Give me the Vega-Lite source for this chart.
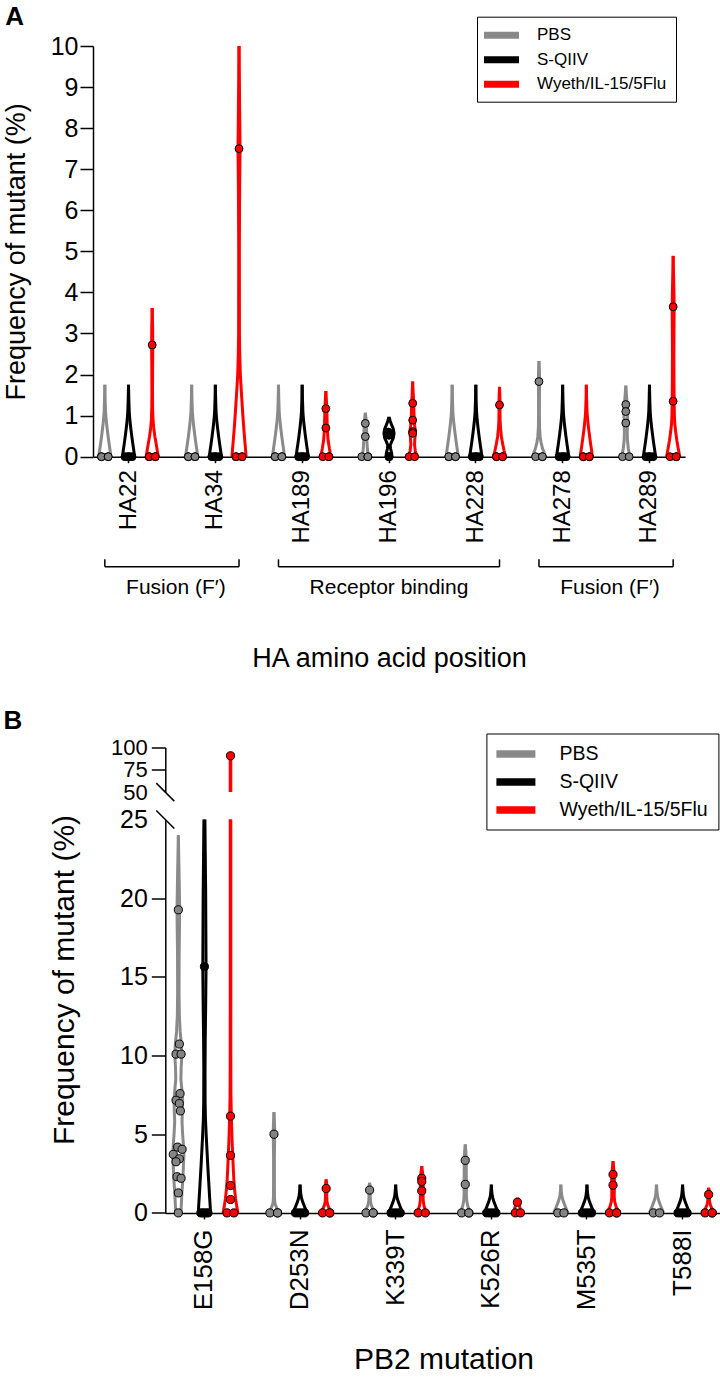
{
"$schema": "https://vega.github.io/schema/vega-lite/v6.json",
"padding": {"left": 2, "top": 4, "right": 0, "bottom": 0},
"spacing": 35.5,
"columns": 1,
"align": "none",
"datasets": {
"vA": [
{"c":"HA22|P","g":"PBS","v":0,"d":6},{"c":"HA22|P","g":"PBS","v":0.15,"d":5.2},{"c":"HA22|P","g":"PBS","v":0.3,"d":4.3},{"c":"HA22|P","g":"PBS","v":0.5,"d":3.2},{"c":"HA22|P","g":"PBS","v":0.7,"d":2.2},{"c":"HA22|P","g":"PBS","v":0.9,"d":1.3},{"c":"HA22|P","g":"PBS","v":1.1,"d":0.7},{"c":"HA22|P","g":"PBS","v":1.4,"d":0.3},{"c":"HA22|P","g":"PBS","v":1.75,"d":0},
{"c":"HA22|S","g":"S-QIIV","v":0,"d":6},{"c":"HA22|S","g":"S-QIIV","v":0.15,"d":5.2},{"c":"HA22|S","g":"S-QIIV","v":0.3,"d":4.3},{"c":"HA22|S","g":"S-QIIV","v":0.5,"d":3.2},{"c":"HA22|S","g":"S-QIIV","v":0.7,"d":2.2},{"c":"HA22|S","g":"S-QIIV","v":0.9,"d":1.3},{"c":"HA22|S","g":"S-QIIV","v":1.1,"d":0.7},{"c":"HA22|S","g":"S-QIIV","v":1.4,"d":0.3},{"c":"HA22|S","g":"S-QIIV","v":1.75,"d":0},
{"c":"HA22|W","g":"Wyeth/IL-15/5Flu","v":0,"d":6},{"c":"HA22|W","g":"Wyeth/IL-15/5Flu","v":0.15,"d":5},{"c":"HA22|W","g":"Wyeth/IL-15/5Flu","v":0.3,"d":4},{"c":"HA22|W","g":"Wyeth/IL-15/5Flu","v":0.5,"d":2.6},{"c":"HA22|W","g":"Wyeth/IL-15/5Flu","v":0.7,"d":1.5},{"c":"HA22|W","g":"Wyeth/IL-15/5Flu","v":0.9,"d":0.8},{"c":"HA22|W","g":"Wyeth/IL-15/5Flu","v":1.2,"d":0.4},{"c":"HA22|W","g":"Wyeth/IL-15/5Flu","v":1.6,"d":0.3},{"c":"HA22|W","g":"Wyeth/IL-15/5Flu","v":2.2,"d":0.4},{"c":"HA22|W","g":"Wyeth/IL-15/5Flu","v":2.72,"d":0.6},{"c":"HA22|W","g":"Wyeth/IL-15/5Flu","v":3.2,"d":0.4},{"c":"HA22|W","g":"Wyeth/IL-15/5Flu","v":3.62,"d":0},
{"c":"HA34|P","g":"PBS","v":0,"d":6},{"c":"HA34|P","g":"PBS","v":0.15,"d":5.2},{"c":"HA34|P","g":"PBS","v":0.3,"d":4.3},{"c":"HA34|P","g":"PBS","v":0.5,"d":3.2},{"c":"HA34|P","g":"PBS","v":0.7,"d":2.2},{"c":"HA34|P","g":"PBS","v":0.9,"d":1.3},{"c":"HA34|P","g":"PBS","v":1.1,"d":0.7},{"c":"HA34|P","g":"PBS","v":1.4,"d":0.3},{"c":"HA34|P","g":"PBS","v":1.75,"d":0},
{"c":"HA34|S","g":"S-QIIV","v":0,"d":6},{"c":"HA34|S","g":"S-QIIV","v":0.15,"d":5.2},{"c":"HA34|S","g":"S-QIIV","v":0.3,"d":4.3},{"c":"HA34|S","g":"S-QIIV","v":0.5,"d":3.2},{"c":"HA34|S","g":"S-QIIV","v":0.7,"d":2.2},{"c":"HA34|S","g":"S-QIIV","v":0.9,"d":1.3},{"c":"HA34|S","g":"S-QIIV","v":1.1,"d":0.7},{"c":"HA34|S","g":"S-QIIV","v":1.4,"d":0.3},{"c":"HA34|S","g":"S-QIIV","v":1.75,"d":0},
{"c":"HA34|W","g":"Wyeth/IL-15/5Flu","v":0,"d":7},{"c":"HA34|W","g":"Wyeth/IL-15/5Flu","v":0.3,"d":6},{"c":"HA34|W","g":"Wyeth/IL-15/5Flu","v":0.6,"d":5},{"c":"HA34|W","g":"Wyeth/IL-15/5Flu","v":1,"d":3.8},{"c":"HA34|W","g":"Wyeth/IL-15/5Flu","v":1.5,"d":2.5},{"c":"HA34|W","g":"Wyeth/IL-15/5Flu","v":2,"d":1.3},{"c":"HA34|W","g":"Wyeth/IL-15/5Flu","v":2.5,"d":0.7},{"c":"HA34|W","g":"Wyeth/IL-15/5Flu","v":3,"d":0.4},{"c":"HA34|W","g":"Wyeth/IL-15/5Flu","v":5,"d":0.3},{"c":"HA34|W","g":"Wyeth/IL-15/5Flu","v":6.5,"d":0.6},{"c":"HA34|W","g":"Wyeth/IL-15/5Flu","v":7.5,"d":1},{"c":"HA34|W","g":"Wyeth/IL-15/5Flu","v":8.5,"d":0.6},{"c":"HA34|W","g":"Wyeth/IL-15/5Flu","v":9.3,"d":0.3},{"c":"HA34|W","g":"Wyeth/IL-15/5Flu","v":10,"d":0},
{"c":"HA189|P","g":"PBS","v":0,"d":6},{"c":"HA189|P","g":"PBS","v":0.15,"d":5.2},{"c":"HA189|P","g":"PBS","v":0.3,"d":4.3},{"c":"HA189|P","g":"PBS","v":0.5,"d":3.2},{"c":"HA189|P","g":"PBS","v":0.7,"d":2.2},{"c":"HA189|P","g":"PBS","v":0.9,"d":1.3},{"c":"HA189|P","g":"PBS","v":1.1,"d":0.7},{"c":"HA189|P","g":"PBS","v":1.4,"d":0.3},{"c":"HA189|P","g":"PBS","v":1.75,"d":0},
{"c":"HA189|S","g":"S-QIIV","v":0,"d":6},{"c":"HA189|S","g":"S-QIIV","v":0.15,"d":5.2},{"c":"HA189|S","g":"S-QIIV","v":0.3,"d":4.3},{"c":"HA189|S","g":"S-QIIV","v":0.5,"d":3.2},{"c":"HA189|S","g":"S-QIIV","v":0.7,"d":2.2},{"c":"HA189|S","g":"S-QIIV","v":0.9,"d":1.3},{"c":"HA189|S","g":"S-QIIV","v":1.1,"d":0.7},{"c":"HA189|S","g":"S-QIIV","v":1.4,"d":0.3},{"c":"HA189|S","g":"S-QIIV","v":1.75,"d":0},
{"c":"HA189|W","g":"Wyeth/IL-15/5Flu","v":0,"d":5},{"c":"HA189|W","g":"Wyeth/IL-15/5Flu","v":0.2,"d":3.5},{"c":"HA189|W","g":"Wyeth/IL-15/5Flu","v":0.4,"d":2.2},{"c":"HA189|W","g":"Wyeth/IL-15/5Flu","v":0.6,"d":1.6},{"c":"HA189|W","g":"Wyeth/IL-15/5Flu","v":0.8,"d":1.3},{"c":"HA189|W","g":"Wyeth/IL-15/5Flu","v":1,"d":1.1},{"c":"HA189|W","g":"Wyeth/IL-15/5Flu","v":1.2,"d":0.9},{"c":"HA189|W","g":"Wyeth/IL-15/5Flu","v":1.4,"d":0.5},{"c":"HA189|W","g":"Wyeth/IL-15/5Flu","v":1.6,"d":0},
{"c":"HA196|P","g":"PBS","v":0,"d":3},{"c":"HA196|P","g":"PBS","v":0.2,"d":2},{"c":"HA196|P","g":"PBS","v":0.4,"d":1.5},{"c":"HA196|P","g":"PBS","v":0.6,"d":1.3},{"c":"HA196|P","g":"PBS","v":0.8,"d":1.2},{"c":"HA196|P","g":"PBS","v":0.95,"d":0.6},{"c":"HA196|P","g":"PBS","v":1.07,"d":0},
{"c":"HA196|S","g":"S-QIIV","v":0,"d":3},{"c":"HA196|S","g":"S-QIIV","v":0.1,"d":2.5},{"c":"HA196|S","g":"S-QIIV","v":0.2,"d":1.5},{"c":"HA196|S","g":"S-QIIV","v":0.28,"d":1.2},{"c":"HA196|S","g":"S-QIIV","v":0.36,"d":2.5},{"c":"HA196|S","g":"S-QIIV","v":0.45,"d":4.2},{"c":"HA196|S","g":"S-QIIV","v":0.57,"d":5},{"c":"HA196|S","g":"S-QIIV","v":0.68,"d":4.2},{"c":"HA196|S","g":"S-QIIV","v":0.78,"d":2.5},{"c":"HA196|S","g":"S-QIIV","v":0.87,"d":1.2},{"c":"HA196|S","g":"S-QIIV","v":0.97,"d":0},
{"c":"HA196|W","g":"Wyeth/IL-15/5Flu","v":0,"d":4},{"c":"HA196|W","g":"Wyeth/IL-15/5Flu","v":0.15,"d":2.5},{"c":"HA196|W","g":"Wyeth/IL-15/5Flu","v":0.3,"d":1.8},{"c":"HA196|W","g":"Wyeth/IL-15/5Flu","v":0.45,"d":2.2},{"c":"HA196|W","g":"Wyeth/IL-15/5Flu","v":0.6,"d":2.8},{"c":"HA196|W","g":"Wyeth/IL-15/5Flu","v":0.75,"d":2},{"c":"HA196|W","g":"Wyeth/IL-15/5Flu","v":0.9,"d":1.6},{"c":"HA196|W","g":"Wyeth/IL-15/5Flu","v":1.1,"d":1.2},{"c":"HA196|W","g":"Wyeth/IL-15/5Flu","v":1.3,"d":1},{"c":"HA196|W","g":"Wyeth/IL-15/5Flu","v":1.55,"d":0.5},{"c":"HA196|W","g":"Wyeth/IL-15/5Flu","v":1.83,"d":0},
{"c":"HA228|P","g":"PBS","v":0,"d":6},{"c":"HA228|P","g":"PBS","v":0.15,"d":5.2},{"c":"HA228|P","g":"PBS","v":0.3,"d":4.3},{"c":"HA228|P","g":"PBS","v":0.5,"d":3.2},{"c":"HA228|P","g":"PBS","v":0.7,"d":2.2},{"c":"HA228|P","g":"PBS","v":0.9,"d":1.3},{"c":"HA228|P","g":"PBS","v":1.1,"d":0.7},{"c":"HA228|P","g":"PBS","v":1.4,"d":0.3},{"c":"HA228|P","g":"PBS","v":1.75,"d":0},
{"c":"HA228|S","g":"S-QIIV","v":0,"d":6},{"c":"HA228|S","g":"S-QIIV","v":0.15,"d":5.2},{"c":"HA228|S","g":"S-QIIV","v":0.3,"d":4.3},{"c":"HA228|S","g":"S-QIIV","v":0.5,"d":3.2},{"c":"HA228|S","g":"S-QIIV","v":0.7,"d":2.2},{"c":"HA228|S","g":"S-QIIV","v":0.9,"d":1.3},{"c":"HA228|S","g":"S-QIIV","v":1.1,"d":0.7},{"c":"HA228|S","g":"S-QIIV","v":1.4,"d":0.3},{"c":"HA228|S","g":"S-QIIV","v":1.75,"d":0},
{"c":"HA228|W","g":"Wyeth/IL-15/5Flu","v":0,"d":6},{"c":"HA228|W","g":"Wyeth/IL-15/5Flu","v":0.15,"d":4.5},{"c":"HA228|W","g":"Wyeth/IL-15/5Flu","v":0.3,"d":3.2},{"c":"HA228|W","g":"Wyeth/IL-15/5Flu","v":0.5,"d":1.8},{"c":"HA228|W","g":"Wyeth/IL-15/5Flu","v":0.7,"d":1},{"c":"HA228|W","g":"Wyeth/IL-15/5Flu","v":0.9,"d":0.6},{"c":"HA228|W","g":"Wyeth/IL-15/5Flu","v":1.1,"d":0.5},{"c":"HA228|W","g":"Wyeth/IL-15/5Flu","v":1.26,"d":0.6},{"c":"HA228|W","g":"Wyeth/IL-15/5Flu","v":1.45,"d":0.4},{"c":"HA228|W","g":"Wyeth/IL-15/5Flu","v":1.7,"d":0},
{"c":"HA278|P","g":"PBS","v":0,"d":6.5},{"c":"HA278|P","g":"PBS","v":0.1,"d":5},{"c":"HA278|P","g":"PBS","v":0.2,"d":3.5},{"c":"HA278|P","g":"PBS","v":0.35,"d":2},{"c":"HA278|P","g":"PBS","v":0.5,"d":1.1},{"c":"HA278|P","g":"PBS","v":0.7,"d":0.6},{"c":"HA278|P","g":"PBS","v":1,"d":0.4},{"c":"HA278|P","g":"PBS","v":1.4,"d":0.4},{"c":"HA278|P","g":"PBS","v":1.83,"d":0.6},{"c":"HA278|P","g":"PBS","v":2.1,"d":0.4},{"c":"HA278|P","g":"PBS","v":2.33,"d":0},
{"c":"HA278|S","g":"S-QIIV","v":0,"d":6},{"c":"HA278|S","g":"S-QIIV","v":0.15,"d":5.2},{"c":"HA278|S","g":"S-QIIV","v":0.3,"d":4.3},{"c":"HA278|S","g":"S-QIIV","v":0.5,"d":3.2},{"c":"HA278|S","g":"S-QIIV","v":0.7,"d":2.2},{"c":"HA278|S","g":"S-QIIV","v":0.9,"d":1.3},{"c":"HA278|S","g":"S-QIIV","v":1.1,"d":0.7},{"c":"HA278|S","g":"S-QIIV","v":1.4,"d":0.3},{"c":"HA278|S","g":"S-QIIV","v":1.75,"d":0},
{"c":"HA278|W","g":"Wyeth/IL-15/5Flu","v":0,"d":6},{"c":"HA278|W","g":"Wyeth/IL-15/5Flu","v":0.15,"d":5.2},{"c":"HA278|W","g":"Wyeth/IL-15/5Flu","v":0.3,"d":4.3},{"c":"HA278|W","g":"Wyeth/IL-15/5Flu","v":0.5,"d":3.2},{"c":"HA278|W","g":"Wyeth/IL-15/5Flu","v":0.7,"d":2.2},{"c":"HA278|W","g":"Wyeth/IL-15/5Flu","v":0.9,"d":1.3},{"c":"HA278|W","g":"Wyeth/IL-15/5Flu","v":1.1,"d":0.7},{"c":"HA278|W","g":"Wyeth/IL-15/5Flu","v":1.4,"d":0.3},{"c":"HA278|W","g":"Wyeth/IL-15/5Flu","v":1.75,"d":0},
{"c":"HA289|P","g":"PBS","v":0,"d":4},{"c":"HA289|P","g":"PBS","v":0.2,"d":2.5},{"c":"HA289|P","g":"PBS","v":0.4,"d":1.6},{"c":"HA289|P","g":"PBS","v":0.6,"d":1.4},{"c":"HA289|P","g":"PBS","v":0.8,"d":1.6},{"c":"HA289|P","g":"PBS","v":1,"d":1.8},{"c":"HA289|P","g":"PBS","v":1.2,"d":1.6},{"c":"HA289|P","g":"PBS","v":1.45,"d":0.8},{"c":"HA289|P","g":"PBS","v":1.73,"d":0},
{"c":"HA289|S","g":"S-QIIV","v":0,"d":6},{"c":"HA289|S","g":"S-QIIV","v":0.15,"d":5.2},{"c":"HA289|S","g":"S-QIIV","v":0.3,"d":4.3},{"c":"HA289|S","g":"S-QIIV","v":0.5,"d":3.2},{"c":"HA289|S","g":"S-QIIV","v":0.7,"d":2.2},{"c":"HA289|S","g":"S-QIIV","v":0.9,"d":1.3},{"c":"HA289|S","g":"S-QIIV","v":1.1,"d":0.7},{"c":"HA289|S","g":"S-QIIV","v":1.4,"d":0.3},{"c":"HA289|S","g":"S-QIIV","v":1.75,"d":0},
{"c":"HA289|W","g":"Wyeth/IL-15/5Flu","v":0,"d":6.5},{"c":"HA289|W","g":"Wyeth/IL-15/5Flu","v":0.2,"d":5},{"c":"HA289|W","g":"Wyeth/IL-15/5Flu","v":0.4,"d":3.6},{"c":"HA289|W","g":"Wyeth/IL-15/5Flu","v":0.6,"d":2.5},{"c":"HA289|W","g":"Wyeth/IL-15/5Flu","v":0.8,"d":1.6},{"c":"HA289|W","g":"Wyeth/IL-15/5Flu","v":1,"d":1.2},{"c":"HA289|W","g":"Wyeth/IL-15/5Flu","v":1.35,"d":1},{"c":"HA289|W","g":"Wyeth/IL-15/5Flu","v":1.8,"d":0.8},{"c":"HA289|W","g":"Wyeth/IL-15/5Flu","v":2.5,"d":0.7},{"c":"HA289|W","g":"Wyeth/IL-15/5Flu","v":3,"d":0.8},{"c":"HA289|W","g":"Wyeth/IL-15/5Flu","v":3.65,"d":1},{"c":"HA289|W","g":"Wyeth/IL-15/5Flu","v":4.2,"d":0.6},{"c":"HA289|W","g":"Wyeth/IL-15/5Flu","v":4.89,"d":0}
],
"pA": [
{"c":"HA22|P","g":"PBS","v":0,"j":-3.3},{"c":"HA22|P","g":"PBS","v":0,"j":-3.3},{"c":"HA22|P","g":"PBS","v":0,"j":3.3},{"c":"HA22|P","g":"PBS","v":0,"j":3.3},
{"c":"HA22|S","g":"S-QIIV","v":0,"j":-3.5},{"c":"HA22|S","g":"S-QIIV","v":0,"j":-1.2},{"c":"HA22|S","g":"S-QIIV","v":0,"j":0},{"c":"HA22|S","g":"S-QIIV","v":0,"j":1.2},{"c":"HA22|S","g":"S-QIIV","v":0,"j":3.5},
{"c":"HA22|W","g":"Wyeth/IL-15/5Flu","v":2.72,"j":0},{"c":"HA22|W","g":"Wyeth/IL-15/5Flu","v":0,"j":-3},{"c":"HA22|W","g":"Wyeth/IL-15/5Flu","v":0,"j":-3},{"c":"HA22|W","g":"Wyeth/IL-15/5Flu","v":0,"j":3},{"c":"HA22|W","g":"Wyeth/IL-15/5Flu","v":0,"j":3},
{"c":"HA34|P","g":"PBS","v":0,"j":-3.3},{"c":"HA34|P","g":"PBS","v":0,"j":-3.3},{"c":"HA34|P","g":"PBS","v":0,"j":3.3},{"c":"HA34|P","g":"PBS","v":0,"j":3.3},
{"c":"HA34|S","g":"S-QIIV","v":0,"j":-3.5},{"c":"HA34|S","g":"S-QIIV","v":0,"j":-1.2},{"c":"HA34|S","g":"S-QIIV","v":0,"j":0},{"c":"HA34|S","g":"S-QIIV","v":0,"j":1.2},{"c":"HA34|S","g":"S-QIIV","v":0,"j":3.5},
{"c":"HA34|W","g":"Wyeth/IL-15/5Flu","v":7.5,"j":0},{"c":"HA34|W","g":"Wyeth/IL-15/5Flu","v":0,"j":-3},{"c":"HA34|W","g":"Wyeth/IL-15/5Flu","v":0,"j":-3},{"c":"HA34|W","g":"Wyeth/IL-15/5Flu","v":0,"j":3},{"c":"HA34|W","g":"Wyeth/IL-15/5Flu","v":0,"j":3},
{"c":"HA189|P","g":"PBS","v":0,"j":-3.3},{"c":"HA189|P","g":"PBS","v":0,"j":-3.3},{"c":"HA189|P","g":"PBS","v":0,"j":3.3},{"c":"HA189|P","g":"PBS","v":0,"j":3.3},
{"c":"HA189|S","g":"S-QIIV","v":0,"j":-3.5},{"c":"HA189|S","g":"S-QIIV","v":0,"j":-1.2},{"c":"HA189|S","g":"S-QIIV","v":0,"j":0},{"c":"HA189|S","g":"S-QIIV","v":0,"j":1.2},{"c":"HA189|S","g":"S-QIIV","v":0,"j":3.5},
{"c":"HA189|W","g":"Wyeth/IL-15/5Flu","v":1.17,"j":0},{"c":"HA189|W","g":"Wyeth/IL-15/5Flu","v":0.7,"j":0},{"c":"HA189|W","g":"Wyeth/IL-15/5Flu","v":0,"j":-3},{"c":"HA189|W","g":"Wyeth/IL-15/5Flu","v":0,"j":3},{"c":"HA189|W","g":"Wyeth/IL-15/5Flu","v":0,"j":3},
{"c":"HA196|P","g":"PBS","v":0.81,"j":0},{"c":"HA196|P","g":"PBS","v":0.49,"j":0},{"c":"HA196|P","g":"PBS","v":0,"j":-3.5},{"c":"HA196|P","g":"PBS","v":0,"j":2.5},{"c":"HA196|P","g":"PBS","v":0,"j":2.5},
{"c":"HA196|S","g":"S-QIIV","v":0.6,"j":-0.8},{"c":"HA196|S","g":"S-QIIV","v":0.55,"j":0.8},{"c":"HA196|S","g":"S-QIIV","v":0.52,"j":0},{"c":"HA196|S","g":"S-QIIV","v":0,"j":0},{"c":"HA196|S","g":"S-QIIV","v":0,"j":0},
{"c":"HA196|W","g":"Wyeth/IL-15/5Flu","v":1.3,"j":0},{"c":"HA196|W","g":"Wyeth/IL-15/5Flu","v":0.89,"j":0},{"c":"HA196|W","g":"Wyeth/IL-15/5Flu","v":0.61,"j":0},{"c":"HA196|W","g":"Wyeth/IL-15/5Flu","v":0.57,"j":0},{"c":"HA196|W","g":"Wyeth/IL-15/5Flu","v":0,"j":-3.5},{"c":"HA196|W","g":"Wyeth/IL-15/5Flu","v":0,"j":2},
{"c":"HA228|P","g":"PBS","v":0,"j":-3.3},{"c":"HA228|P","g":"PBS","v":0,"j":-3.3},{"c":"HA228|P","g":"PBS","v":0,"j":3.3},{"c":"HA228|P","g":"PBS","v":0,"j":3.3},
{"c":"HA228|S","g":"S-QIIV","v":0,"j":-3.5},{"c":"HA228|S","g":"S-QIIV","v":0,"j":-1.2},{"c":"HA228|S","g":"S-QIIV","v":0,"j":0},{"c":"HA228|S","g":"S-QIIV","v":0,"j":1.2},{"c":"HA228|S","g":"S-QIIV","v":0,"j":3.5},
{"c":"HA228|W","g":"Wyeth/IL-15/5Flu","v":1.26,"j":0},{"c":"HA228|W","g":"Wyeth/IL-15/5Flu","v":0,"j":-3},{"c":"HA228|W","g":"Wyeth/IL-15/5Flu","v":0,"j":-3},{"c":"HA228|W","g":"Wyeth/IL-15/5Flu","v":0,"j":3},{"c":"HA228|W","g":"Wyeth/IL-15/5Flu","v":0,"j":3},
{"c":"HA278|P","g":"PBS","v":1.83,"j":0},{"c":"HA278|P","g":"PBS","v":0,"j":-3.3},{"c":"HA278|P","g":"PBS","v":0,"j":3.3},{"c":"HA278|P","g":"PBS","v":0,"j":3.3},
{"c":"HA278|S","g":"S-QIIV","v":0,"j":-3.5},{"c":"HA278|S","g":"S-QIIV","v":0,"j":-1.2},{"c":"HA278|S","g":"S-QIIV","v":0,"j":0},{"c":"HA278|S","g":"S-QIIV","v":0,"j":1.2},{"c":"HA278|S","g":"S-QIIV","v":0,"j":3.5},
{"c":"HA278|W","g":"Wyeth/IL-15/5Flu","v":0,"j":-3},{"c":"HA278|W","g":"Wyeth/IL-15/5Flu","v":0,"j":-3},{"c":"HA278|W","g":"Wyeth/IL-15/5Flu","v":0,"j":3},{"c":"HA278|W","g":"Wyeth/IL-15/5Flu","v":0,"j":3},
{"c":"HA289|P","g":"PBS","v":1.27,"j":0},{"c":"HA289|P","g":"PBS","v":1.1,"j":0},{"c":"HA289|P","g":"PBS","v":0.82,"j":0},{"c":"HA289|P","g":"PBS","v":0,"j":-3.3},{"c":"HA289|P","g":"PBS","v":0,"j":3.3},
{"c":"HA289|S","g":"S-QIIV","v":0,"j":-3.5},{"c":"HA289|S","g":"S-QIIV","v":0,"j":-1.2},{"c":"HA289|S","g":"S-QIIV","v":0,"j":0},{"c":"HA289|S","g":"S-QIIV","v":0,"j":1.2},{"c":"HA289|S","g":"S-QIIV","v":0,"j":3.5},
{"c":"HA289|W","g":"Wyeth/IL-15/5Flu","v":3.65,"j":0},{"c":"HA289|W","g":"Wyeth/IL-15/5Flu","v":1.35,"j":0},{"c":"HA289|W","g":"Wyeth/IL-15/5Flu","v":0,"j":-3},{"c":"HA289|W","g":"Wyeth/IL-15/5Flu","v":0,"j":3},{"c":"HA289|W","g":"Wyeth/IL-15/5Flu","v":0,"j":3}
],
"brA": [
{"c1":"HA22|P","c2":"HA34|W","ct":"HA22|7","t":"Fusion (F′)"},
{"c1":"HA189|P","c2":"HA228|W","ct":"HA196|S","t":"Receptor binding"},
{"c1":"HA278|P","c2":"HA289|W","ct":"HA278|7","t":"Fusion (F′)"}
],
"vB": [
{"c":"E158G|P","g":"PBS","v":0,"d":2.5},{"c":"E158G|P","g":"PBS","v":0.6,"d":3},{"c":"E158G|P","g":"PBS","v":1.3,"d":3.5},{"c":"E158G|P","g":"PBS","v":2.2,"d":4.5},{"c":"E158G|P","g":"PBS","v":3,"d":5},{"c":"E158G|P","g":"PBS","v":3.7,"d":5.5},{"c":"E158G|P","g":"PBS","v":4.3,"d":5},{"c":"E158G|P","g":"PBS","v":5,"d":4.2},{"c":"E158G|P","g":"PBS","v":5.8,"d":3.6},{"c":"E158G|P","g":"PBS","v":6.5,"d":4},{"c":"E158G|P","g":"PBS","v":7.2,"d":4.2},{"c":"E158G|P","g":"PBS","v":7.8,"d":3.5},{"c":"E158G|P","g":"PBS","v":8.5,"d":2.5},{"c":"E158G|P","g":"PBS","v":9.3,"d":2.8},{"c":"E158G|P","g":"PBS","v":10,"d":3.5},{"c":"E158G|P","g":"PBS","v":10.7,"d":3},{"c":"E158G|P","g":"PBS","v":11.5,"d":1.8},{"c":"E158G|P","g":"PBS","v":12.5,"d":1},{"c":"E158G|P","g":"PBS","v":14,"d":0.7},{"c":"E158G|P","g":"PBS","v":16.5,"d":0.8},{"c":"E158G|P","g":"PBS","v":18.5,"d":1.2},{"c":"E158G|P","g":"PBS","v":19.3,"d":1.3},{"c":"E158G|P","g":"PBS","v":20.5,"d":1},{"c":"E158G|P","g":"PBS","v":22,"d":0.6},{"c":"E158G|P","g":"PBS","v":24,"d":0},
{"c":"E158G|S","g":"S-QIIV","v":0,"d":6},{"c":"E158G|S","g":"S-QIIV","v":0.5,"d":5.6},{"c":"E158G|S","g":"S-QIIV","v":1,"d":5.1},{"c":"E158G|S","g":"S-QIIV","v":2,"d":4.2},{"c":"E158G|S","g":"S-QIIV","v":3,"d":3.3},{"c":"E158G|S","g":"S-QIIV","v":4,"d":2.5},{"c":"E158G|S","g":"S-QIIV","v":5,"d":1.7},{"c":"E158G|S","g":"S-QIIV","v":6,"d":1},{"c":"E158G|S","g":"S-QIIV","v":7,"d":0.7},{"c":"E158G|S","g":"S-QIIV","v":9,"d":0.6},{"c":"E158G|S","g":"S-QIIV","v":11,"d":0.8},{"c":"E158G|S","g":"S-QIIV","v":13,"d":1.2},{"c":"E158G|S","g":"S-QIIV","v":15.6,"d":1.6},{"c":"E158G|S","g":"S-QIIV","v":18,"d":1.4},{"c":"E158G|S","g":"S-QIIV","v":20.5,"d":1.2},{"c":"E158G|S","g":"S-QIIV","v":23,"d":0.8},{"c":"E158G|S","g":"S-QIIV","v":25,"d":0.5},{"c":"E158G|S","g":"S-QIIV","v":28,"d":0.3},{"c":"E158G|S","g":"S-QIIV","v":30,"d":0},
{"c":"E158G|W","g":"Wyeth/IL-15/5Flu","v":0,"d":7.3},{"c":"E158G|W","g":"Wyeth/IL-15/5Flu","v":0.4,"d":6.2},{"c":"E158G|W","g":"Wyeth/IL-15/5Flu","v":0.9,"d":5},{"c":"E158G|W","g":"Wyeth/IL-15/5Flu","v":1.5,"d":4},{"c":"E158G|W","g":"Wyeth/IL-15/5Flu","v":2.2,"d":3.2},{"c":"E158G|W","g":"Wyeth/IL-15/5Flu","v":3,"d":2.6},{"c":"E158G|W","g":"Wyeth/IL-15/5Flu","v":3.7,"d":2.2},{"c":"E158G|W","g":"Wyeth/IL-15/5Flu","v":4.5,"d":1.6},{"c":"E158G|W","g":"Wyeth/IL-15/5Flu","v":5.5,"d":1.1},{"c":"E158G|W","g":"Wyeth/IL-15/5Flu","v":6.2,"d":0.8},{"c":"E158G|W","g":"Wyeth/IL-15/5Flu","v":7.5,"d":0.4},{"c":"E158G|W","g":"Wyeth/IL-15/5Flu","v":10,"d":0.3},{"c":"E158G|W","g":"Wyeth/IL-15/5Flu","v":50,"d":0.3},{"c":"E158G|W","g":"Wyeth/IL-15/5Flu","v":85,"d":0.3},{"c":"E158G|W","g":"Wyeth/IL-15/5Flu","v":90.7,"d":0},
{"c":"D253N|P","g":"PBS","v":0,"d":6},{"c":"D253N|P","g":"PBS","v":0.15,"d":4.2},{"c":"D253N|P","g":"PBS","v":0.3,"d":2.8},{"c":"D253N|P","g":"PBS","v":0.5,"d":1.5},{"c":"D253N|P","g":"PBS","v":0.7,"d":0.8},{"c":"D253N|P","g":"PBS","v":1,"d":0.5},{"c":"D253N|P","g":"PBS","v":2,"d":0.4},{"c":"D253N|P","g":"PBS","v":3.5,"d":0.4},{"c":"D253N|P","g":"PBS","v":4.5,"d":0.6},{"c":"D253N|P","g":"PBS","v":5.05,"d":0.8},{"c":"D253N|P","g":"PBS","v":5.7,"d":0.5},{"c":"D253N|P","g":"PBS","v":6.4,"d":0},
{"c":"D253N|S","g":"S-QIIV","v":0,"d":7},{"c":"D253N|S","g":"S-QIIV","v":0.15,"d":6},{"c":"D253N|S","g":"S-QIIV","v":0.3,"d":5},{"c":"D253N|S","g":"S-QIIV","v":0.5,"d":3.8},{"c":"D253N|S","g":"S-QIIV","v":0.7,"d":2.6},{"c":"D253N|S","g":"S-QIIV","v":0.9,"d":1.6},{"c":"D253N|S","g":"S-QIIV","v":1.1,"d":0.9},{"c":"D253N|S","g":"S-QIIV","v":1.4,"d":0.4},{"c":"D253N|S","g":"S-QIIV","v":1.8,"d":0},
{"c":"D253N|W","g":"Wyeth/IL-15/5Flu","v":0,"d":6},{"c":"D253N|W","g":"Wyeth/IL-15/5Flu","v":0.15,"d":4.3},{"c":"D253N|W","g":"Wyeth/IL-15/5Flu","v":0.3,"d":3},{"c":"D253N|W","g":"Wyeth/IL-15/5Flu","v":0.5,"d":1.6},{"c":"D253N|W","g":"Wyeth/IL-15/5Flu","v":0.75,"d":0.8},{"c":"D253N|W","g":"Wyeth/IL-15/5Flu","v":1.1,"d":0.6},{"c":"D253N|W","g":"Wyeth/IL-15/5Flu","v":1.55,"d":0.8},{"c":"D253N|W","g":"Wyeth/IL-15/5Flu","v":1.85,"d":0.5},{"c":"D253N|W","g":"Wyeth/IL-15/5Flu","v":2.13,"d":0},
{"c":"K339T|P","g":"PBS","v":0,"d":6},{"c":"K339T|P","g":"PBS","v":0.15,"d":4.3},{"c":"K339T|P","g":"PBS","v":0.3,"d":3},{"c":"K339T|P","g":"PBS","v":0.5,"d":1.6},{"c":"K339T|P","g":"PBS","v":0.75,"d":0.8},{"c":"K339T|P","g":"PBS","v":1.1,"d":0.6},{"c":"K339T|P","g":"PBS","v":1.45,"d":0.8},{"c":"K339T|P","g":"PBS","v":1.7,"d":0.5},{"c":"K339T|P","g":"PBS","v":1.91,"d":0},
{"c":"K339T|S","g":"S-QIIV","v":0,"d":7},{"c":"K339T|S","g":"S-QIIV","v":0.15,"d":6},{"c":"K339T|S","g":"S-QIIV","v":0.3,"d":5},{"c":"K339T|S","g":"S-QIIV","v":0.5,"d":3.8},{"c":"K339T|S","g":"S-QIIV","v":0.7,"d":2.6},{"c":"K339T|S","g":"S-QIIV","v":0.9,"d":1.6},{"c":"K339T|S","g":"S-QIIV","v":1.1,"d":0.9},{"c":"K339T|S","g":"S-QIIV","v":1.4,"d":0.4},{"c":"K339T|S","g":"S-QIIV","v":1.8,"d":0},
{"c":"K339T|W","g":"Wyeth/IL-15/5Flu","v":0,"d":5},{"c":"K339T|W","g":"Wyeth/IL-15/5Flu","v":0.2,"d":3.5},{"c":"K339T|W","g":"Wyeth/IL-15/5Flu","v":0.45,"d":2.2},{"c":"K339T|W","g":"Wyeth/IL-15/5Flu","v":0.8,"d":1.4},{"c":"K339T|W","g":"Wyeth/IL-15/5Flu","v":1.1,"d":1.3},{"c":"K339T|W","g":"Wyeth/IL-15/5Flu","v":1.4,"d":1.5},{"c":"K339T|W","g":"Wyeth/IL-15/5Flu","v":1.7,"d":1.4},{"c":"K339T|W","g":"Wyeth/IL-15/5Flu","v":2,"d":1.5},{"c":"K339T|W","g":"Wyeth/IL-15/5Flu","v":2.2,"d":1.4},{"c":"K339T|W","g":"Wyeth/IL-15/5Flu","v":2.5,"d":0.9},{"c":"K339T|W","g":"Wyeth/IL-15/5Flu","v":2.97,"d":0},
{"c":"K526R|P","g":"PBS","v":0,"d":5.5},{"c":"K526R|P","g":"PBS","v":0.2,"d":3.8},{"c":"K526R|P","g":"PBS","v":0.45,"d":2.4},{"c":"K526R|P","g":"PBS","v":0.8,"d":1.4},{"c":"K526R|P","g":"PBS","v":1.2,"d":1.1},{"c":"K526R|P","g":"PBS","v":1.8,"d":1.2},{"c":"K526R|P","g":"PBS","v":2.5,"d":1},{"c":"K526R|P","g":"PBS","v":3.34,"d":1.1},{"c":"K526R|P","g":"PBS","v":3.9,"d":0.6},{"c":"K526R|P","g":"PBS","v":4.36,"d":0},
{"c":"K526R|S","g":"S-QIIV","v":0,"d":7},{"c":"K526R|S","g":"S-QIIV","v":0.15,"d":6},{"c":"K526R|S","g":"S-QIIV","v":0.3,"d":5},{"c":"K526R|S","g":"S-QIIV","v":0.5,"d":3.8},{"c":"K526R|S","g":"S-QIIV","v":0.7,"d":2.6},{"c":"K526R|S","g":"S-QIIV","v":0.9,"d":1.6},{"c":"K526R|S","g":"S-QIIV","v":1.1,"d":0.9},{"c":"K526R|S","g":"S-QIIV","v":1.4,"d":0.4},{"c":"K526R|S","g":"S-QIIV","v":1.8,"d":0},
{"c":"K526R|W","g":"Wyeth/IL-15/5Flu","v":0,"d":4},{"c":"K526R|W","g":"Wyeth/IL-15/5Flu","v":0.2,"d":3},{"c":"K526R|W","g":"Wyeth/IL-15/5Flu","v":0.4,"d":2.2},{"c":"K526R|W","g":"Wyeth/IL-15/5Flu","v":0.6,"d":1.8},{"c":"K526R|W","g":"Wyeth/IL-15/5Flu","v":0.75,"d":1.3},{"c":"K526R|W","g":"Wyeth/IL-15/5Flu","v":0.95,"d":0},
{"c":"M535T|P","g":"PBS","v":0,"d":7},{"c":"M535T|P","g":"PBS","v":0.15,"d":6},{"c":"M535T|P","g":"PBS","v":0.3,"d":5},{"c":"M535T|P","g":"PBS","v":0.5,"d":3.8},{"c":"M535T|P","g":"PBS","v":0.7,"d":2.6},{"c":"M535T|P","g":"PBS","v":0.9,"d":1.6},{"c":"M535T|P","g":"PBS","v":1.1,"d":0.9},{"c":"M535T|P","g":"PBS","v":1.4,"d":0.4},{"c":"M535T|P","g":"PBS","v":1.8,"d":0},
{"c":"M535T|S","g":"S-QIIV","v":0,"d":7},{"c":"M535T|S","g":"S-QIIV","v":0.15,"d":6},{"c":"M535T|S","g":"S-QIIV","v":0.3,"d":5},{"c":"M535T|S","g":"S-QIIV","v":0.5,"d":3.8},{"c":"M535T|S","g":"S-QIIV","v":0.7,"d":2.6},{"c":"M535T|S","g":"S-QIIV","v":0.9,"d":1.6},{"c":"M535T|S","g":"S-QIIV","v":1.1,"d":0.9},{"c":"M535T|S","g":"S-QIIV","v":1.4,"d":0.4},{"c":"M535T|S","g":"S-QIIV","v":1.8,"d":0},
{"c":"M535T|W","g":"Wyeth/IL-15/5Flu","v":0,"d":6},{"c":"M535T|W","g":"Wyeth/IL-15/5Flu","v":0.2,"d":4.5},{"c":"M535T|W","g":"Wyeth/IL-15/5Flu","v":0.4,"d":3},{"c":"M535T|W","g":"Wyeth/IL-15/5Flu","v":0.7,"d":1.7},{"c":"M535T|W","g":"Wyeth/IL-15/5Flu","v":1,"d":1.2},{"c":"M535T|W","g":"Wyeth/IL-15/5Flu","v":1.4,"d":1.2},{"c":"M535T|W","g":"Wyeth/IL-15/5Flu","v":1.76,"d":1.4},{"c":"M535T|W","g":"Wyeth/IL-15/5Flu","v":2.1,"d":1.3},{"c":"M535T|W","g":"Wyeth/IL-15/5Flu","v":2.44,"d":1.2},{"c":"M535T|W","g":"Wyeth/IL-15/5Flu","v":2.8,"d":0.7},{"c":"M535T|W","g":"Wyeth/IL-15/5Flu","v":3.29,"d":0},
{"c":"T588I|P","g":"PBS","v":0,"d":7},{"c":"T588I|P","g":"PBS","v":0.15,"d":6},{"c":"T588I|P","g":"PBS","v":0.3,"d":5},{"c":"T588I|P","g":"PBS","v":0.5,"d":3.8},{"c":"T588I|P","g":"PBS","v":0.7,"d":2.6},{"c":"T588I|P","g":"PBS","v":0.9,"d":1.6},{"c":"T588I|P","g":"PBS","v":1.1,"d":0.9},{"c":"T588I|P","g":"PBS","v":1.4,"d":0.4},{"c":"T588I|P","g":"PBS","v":1.8,"d":0},
{"c":"T588I|S","g":"S-QIIV","v":0,"d":7},{"c":"T588I|S","g":"S-QIIV","v":0.15,"d":6},{"c":"T588I|S","g":"S-QIIV","v":0.3,"d":5},{"c":"T588I|S","g":"S-QIIV","v":0.5,"d":3.8},{"c":"T588I|S","g":"S-QIIV","v":0.7,"d":2.6},{"c":"T588I|S","g":"S-QIIV","v":0.9,"d":1.6},{"c":"T588I|S","g":"S-QIIV","v":1.1,"d":0.9},{"c":"T588I|S","g":"S-QIIV","v":1.4,"d":0.4},{"c":"T588I|S","g":"S-QIIV","v":1.8,"d":0},
{"c":"T588I|W","g":"Wyeth/IL-15/5Flu","v":0,"d":6},{"c":"T588I|W","g":"Wyeth/IL-15/5Flu","v":0.15,"d":4.3},{"c":"T588I|W","g":"Wyeth/IL-15/5Flu","v":0.3,"d":3},{"c":"T588I|W","g":"Wyeth/IL-15/5Flu","v":0.5,"d":1.7},{"c":"T588I|W","g":"Wyeth/IL-15/5Flu","v":0.7,"d":1},{"c":"T588I|W","g":"Wyeth/IL-15/5Flu","v":0.9,"d":0.7},{"c":"T588I|W","g":"Wyeth/IL-15/5Flu","v":1.17,"d":0.8},{"c":"T588I|W","g":"Wyeth/IL-15/5Flu","v":1.4,"d":0.5},{"c":"T588I|W","g":"Wyeth/IL-15/5Flu","v":1.6,"d":0}
],
"pB": [
{"c":"E158G|P","g":"PBS","v":19.26,"j":0},{"c":"E158G|P","g":"PBS","v":10.73,"j":1},{"c":"E158G|P","g":"PBS","v":10.09,"j":-2.3},{"c":"E158G|P","g":"PBS","v":10.09,"j":2.7},{"c":"E158G|P","g":"PBS","v":7.58,"j":1.7},{"c":"E158G|P","g":"PBS","v":7.16,"j":-2.3},{"c":"E158G|P","g":"PBS","v":6.95,"j":1},{"c":"E158G|P","g":"PBS","v":6.48,"j":2},{"c":"E158G|P","g":"PBS","v":4.18,"j":-0.7},{"c":"E158G|P","g":"PBS","v":4.04,"j":3.7},{"c":"E158G|P","g":"PBS","v":3.72,"j":-5},{"c":"E158G|P","g":"PBS","v":3.44,"j":1},{"c":"E158G|P","g":"PBS","v":3.25,"j":-2.3},{"c":"E158G|P","g":"PBS","v":2.3,"j":-1.3},{"c":"E158G|P","g":"PBS","v":2.2,"j":2.7},{"c":"E158G|P","g":"PBS","v":1.27,"j":0},{"c":"E158G|P","g":"PBS","v":0,"j":0},
{"c":"E158G|S","g":"S-QIIV","v":15.65,"j":0},{"c":"E158G|S","g":"S-QIIV","v":0,"j":-3.5},{"c":"E158G|S","g":"S-QIIV","v":0,"j":-1.2},{"c":"E158G|S","g":"S-QIIV","v":0,"j":1.2},{"c":"E158G|S","g":"S-QIIV","v":0,"j":3.5},
{"c":"E158G|W","g":"Wyeth/IL-15/5Flu","v":90.7,"j":0},{"c":"E158G|W","g":"Wyeth/IL-15/5Flu","v":6.15,"j":0},{"c":"E158G|W","g":"Wyeth/IL-15/5Flu","v":3.65,"j":0},{"c":"E158G|W","g":"Wyeth/IL-15/5Flu","v":1.74,"j":0},{"c":"E158G|W","g":"Wyeth/IL-15/5Flu","v":0.85,"j":0},{"c":"E158G|W","g":"Wyeth/IL-15/5Flu","v":0,"j":-3.4},{"c":"E158G|W","g":"Wyeth/IL-15/5Flu","v":0,"j":3.3},
{"c":"D253N|P","g":"PBS","v":5,"j":0},{"c":"D253N|P","g":"PBS","v":0,"j":-4},{"c":"D253N|P","g":"PBS","v":0,"j":3.5},{"c":"D253N|P","g":"PBS","v":0,"j":3.5},
{"c":"D253N|S","g":"S-QIIV","v":0,"j":-4.5},{"c":"D253N|S","g":"S-QIIV","v":0,"j":-1.5},{"c":"D253N|S","g":"S-QIIV","v":0,"j":1.5},{"c":"D253N|S","g":"S-QIIV","v":0,"j":4.5},
{"c":"D253N|W","g":"Wyeth/IL-15/5Flu","v":1.55,"j":0},{"c":"D253N|W","g":"Wyeth/IL-15/5Flu","v":0,"j":-3.5},{"c":"D253N|W","g":"Wyeth/IL-15/5Flu","v":0,"j":3.5},{"c":"D253N|W","g":"Wyeth/IL-15/5Flu","v":0,"j":3.5},
{"c":"K339T|P","g":"PBS","v":1.45,"j":0},{"c":"K339T|P","g":"PBS","v":0,"j":-3.5},{"c":"K339T|P","g":"PBS","v":0,"j":3.5},{"c":"K339T|P","g":"PBS","v":0,"j":3.5},
{"c":"K339T|S","g":"S-QIIV","v":0,"j":-4.5},{"c":"K339T|S","g":"S-QIIV","v":0,"j":-1.5},{"c":"K339T|S","g":"S-QIIV","v":0,"j":1.5},{"c":"K339T|S","g":"S-QIIV","v":0,"j":4.5},
{"c":"K339T|W","g":"Wyeth/IL-15/5Flu","v":2.2,"j":0},{"c":"K339T|W","g":"Wyeth/IL-15/5Flu","v":2.0,"j":0},{"c":"K339T|W","g":"Wyeth/IL-15/5Flu","v":1.4,"j":0},{"c":"K339T|W","g":"Wyeth/IL-15/5Flu","v":0,"j":-3.5},{"c":"K339T|W","g":"Wyeth/IL-15/5Flu","v":0,"j":3.5},
{"c":"K526R|P","g":"PBS","v":3.34,"j":0},{"c":"K526R|P","g":"PBS","v":1.81,"j":0},{"c":"K526R|P","g":"PBS","v":0,"j":-3.5},{"c":"K526R|P","g":"PBS","v":0,"j":3.5},{"c":"K526R|P","g":"PBS","v":0,"j":3.5},
{"c":"K526R|S","g":"S-QIIV","v":0,"j":-4.5},{"c":"K526R|S","g":"S-QIIV","v":0,"j":-1.5},{"c":"K526R|S","g":"S-QIIV","v":0,"j":1.5},{"c":"K526R|S","g":"S-QIIV","v":0,"j":4.5},
{"c":"K526R|W","g":"Wyeth/IL-15/5Flu","v":0.68,"j":0},{"c":"K526R|W","g":"Wyeth/IL-15/5Flu","v":0,"j":-2},{"c":"K526R|W","g":"Wyeth/IL-15/5Flu","v":0,"j":3},
{"c":"M535T|P","g":"PBS","v":0,"j":-3},{"c":"M535T|P","g":"PBS","v":0,"j":3},
{"c":"M535T|S","g":"S-QIIV","v":0,"j":-4.5},{"c":"M535T|S","g":"S-QIIV","v":0,"j":-1.5},{"c":"M535T|S","g":"S-QIIV","v":0,"j":1.5},{"c":"M535T|S","g":"S-QIIV","v":0,"j":4.5},
{"c":"M535T|W","g":"Wyeth/IL-15/5Flu","v":2.44,"j":0},{"c":"M535T|W","g":"Wyeth/IL-15/5Flu","v":1.76,"j":0},{"c":"M535T|W","g":"Wyeth/IL-15/5Flu","v":0,"j":-3.5},{"c":"M535T|W","g":"Wyeth/IL-15/5Flu","v":0,"j":3.5},{"c":"M535T|W","g":"Wyeth/IL-15/5Flu","v":0,"j":3.5},
{"c":"T588I|P","g":"PBS","v":0,"j":-3},{"c":"T588I|P","g":"PBS","v":0,"j":3},
{"c":"T588I|S","g":"S-QIIV","v":0,"j":-4.5},{"c":"T588I|S","g":"S-QIIV","v":0,"j":-1.5},{"c":"T588I|S","g":"S-QIIV","v":0,"j":1.5},{"c":"T588I|S","g":"S-QIIV","v":0,"j":4.5},
{"c":"T588I|W","g":"Wyeth/IL-15/5Flu","v":1.17,"j":0},{"c":"T588I|W","g":"Wyeth/IL-15/5Flu","v":0,"j":-3.5},{"c":"T588I|W","g":"Wyeth/IL-15/5Flu","v":0,"j":3.5},{"c":"T588I|W","g":"Wyeth/IL-15/5Flu","v":0,"j":3.5}
]
},
"concat": [
{
"width": 592, "height": 410.7,
"title": {"text": "A", "anchor": "start", "frame": "bounds", "fontSize": 26, "fontWeight": "bold", "offset": 0, "dy": 14, "dx": 3},
"resolve": {"scale": {"xOffset": "independent"}},
"layer": [
{"data": {"name": "vA"}, "mark": {"type": "line", "strokeWidth": 3, "strokeJoin": "round"},
 "encoding": {
  "x": {"field": "c", "type": "nominal", "scale": {"type": "band", "paddingInner": 0, "paddingOuter": 1.52, "domain": ["HA22|P","HA22|1","HA22|2","HA22|S","HA22|3","HA22|4","HA22|W","HA22|5","HA22|6","HA22|7","HA22|8","HA34|P","HA34|1","HA34|2","HA34|S","HA34|3","HA34|4","HA34|W","HA34|5","HA34|6","HA34|7","HA34|8","HA189|P","HA189|1","HA189|2","HA189|S","HA189|3","HA189|4","HA189|W","HA189|5","HA189|6","HA189|7","HA189|8","HA196|P","HA196|1","HA196|2","HA196|S","HA196|3","HA196|4","HA196|W","HA196|5","HA196|6","HA196|7","HA196|8","HA228|P","HA228|1","HA228|2","HA228|S","HA228|3","HA228|4","HA228|W","HA228|5","HA228|6","HA228|7","HA228|8","HA278|P","HA278|1","HA278|2","HA278|S","HA278|3","HA278|4","HA278|W","HA278|5","HA278|6","HA278|7","HA278|8","HA289|P","HA289|1","HA289|2","HA289|S","HA289|3","HA289|4","HA289|W"]},
   "axis": {"values": ["HA22|S","HA34|S","HA189|S","HA196|S","HA228|S","HA278|S","HA289|S"], "labelExpr": "split(datum.value, '|')[0]", "labelAngle": -90, "labelFontSize": 24, "tickSize": 6, "labelPadding": 7, "title": "HA amino acid position", "titleFontSize": 27, "titlePadding": 102}},
  "y": {"field": "v", "type": "quantitative", "scale": {"domain": [0, 10], "nice": false, "zero": false}, "axis": {"values": [0,1,2,3,4,5,6,7,8,9,10], "title": "Frequency of mutant (%)", "titleFontSize": 27, "titlePadding": 20, "labelFontSize": 25, "tickSize": 13, "labelPadding": 2, "labelOverlap": false}},
  "xOffset": {"field": "d", "type": "quantitative", "scale": {"domain": [-3.893, 3.893]}},
  "stroke": {"field": "g", "type": "nominal", "scale": {"domain": ["PBS","S-QIIV","Wyeth/IL-15/5Flu"], "range": ["#8a8a8a","#000000","#ff0000"]},
   "legend": {"orient": "none", "legendX": 384, "legendY": -29.3, "title": null, "symbolType": "M-2,-0.25H2V0.25H-2Z", "symbolSize": 256, "symbolStrokeWidth": 3, "symbolOffset": 6, "labelFontSize": 17, "labelOffset": 26, "padding": 9, "rowPadding": 6.5, "strokeColor": "black", "fillColor": "white"}},
  "detail": {"field": "c"}, "order": {"field": "v", "type": "quantitative"}}},
{"data": {"name": "vA"}, "mark": {"type": "line", "strokeWidth": 3, "strokeJoin": "round"},
 "encoding": {
  "x": {"field": "c", "type": "nominal"},
  "y": {"field": "v", "type": "quantitative"},
  "xOffset": {"field": "d", "type": "quantitative", "scale": {"domain": [3.893, -3.893]}},
  "stroke": {"field": "g", "type": "nominal"},
  "detail": {"field": "c"}, "order": {"field": "v", "type": "quantitative"}}},
{"data": {"name": "pA"}, "mark": {"type": "point", "shape": "circle", "filled": true, "size": 62, "stroke": "black", "strokeWidth": 1, "opacity": 1},
 "encoding": {
  "x": {"field": "c", "type": "nominal"},
  "y": {"field": "v", "type": "quantitative"},
  "xOffset": {"field": "j", "type": "quantitative", "scale": {"domain": [-3.893, 3.893]}},
  "fill": {"field": "g", "type": "nominal", "scale": {"domain": ["PBS","S-QIIV","Wyeth/IL-15/5Flu"], "range": ["#848484","#000000","#ff0000"]}, "legend": null}}},
{"data": {"name": "brA"}, "mark": {"type": "rule", "strokeWidth": 1.5, "color": "black"},
 "encoding": {"x": {"field": "c1", "type": "nominal"}, "x2": {"field": "c2"}, "y": {"datum": -2.68, "type": "quantitative"}}},
{"data": {"name": "brA"}, "mark": {"type": "rule", "strokeWidth": 1.5, "color": "black"},
 "encoding": {"x": {"field": "c1", "type": "nominal"}, "y": {"datum": -2.68, "type": "quantitative"}, "y2": {"datum": -2.5}}},
{"data": {"name": "brA"}, "mark": {"type": "rule", "strokeWidth": 1.5, "color": "black"},
 "encoding": {"x": {"field": "c2", "type": "nominal"}, "y": {"datum": -2.68, "type": "quantitative"}, "y2": {"datum": -2.5}}},
{"data": {"name": "brA"}, "mark": {"type": "text", "fontSize": 21, "align": "center", "baseline": "middle", "color": "black"},
 "encoding": {"x": {"field": "ct", "type": "nominal"}, "y": {"datum": -3.2, "type": "quantitative"}, "text": {"field": "t"}}}
]
},
{
"title": {"text": "B", "anchor": "start", "frame": "bounds", "fontSize": 26, "fontWeight": "bold", "dx": -46, "dy": 5},
"spacing": 27,
"bounds": "flush",
"resolve": {"scale": {"stroke": "independent", "fill": "independent"}, "legend": {"stroke": "independent"}},
"vconcat": [
{
"width": 628.7, "height": 44.6,
"resolve": {"scale": {"x": "independent"}},
"layer": [
{
"encoding": {
"x": {"field": "c", "type": "nominal", "scale": {"type": "band", "range": [72.3, 628.7], "paddingInner": 0, "paddingOuter": 1.54, "domain": ["E158G|P","E158G|1","E158G|2","E158G|S","E158G|3","E158G|4","E158G|W","E158G|5","E158G|6","E158G|7","E158G|8","D253N|P","D253N|1","D253N|2","D253N|S","D253N|3","D253N|4","D253N|W","D253N|5","D253N|6","D253N|7","D253N|8","K339T|P","K339T|1","K339T|2","K339T|S","K339T|3","K339T|4","K339T|W","K339T|5","K339T|6","K339T|7","K339T|8","K526R|P","K526R|1","K526R|2","K526R|S","K526R|3","K526R|4","K526R|W","K526R|5","K526R|6","K526R|7","K526R|8","M535T|P","M535T|1","M535T|2","M535T|S","M535T|3","M535T|4","M535T|W","M535T|5","M535T|6","M535T|7","M535T|8","T588I|P","T588I|1","T588I|2","T588I|S","T588I|3","T588I|4","T588I|W"]}, "axis": null},
"y": {"field": "v", "type": "quantitative", "scale": {"domain": [50, 100], "nice": false, "zero": false}, "axis": {"values": [50, 75, 100], "title": null, "offset": -72.3, "labelFontSize": 22, "tickSize": 14, "labelPadding": 4, "labelOverlap": false, "tickOpacity": {"condition": {"test": "datum.value == 50", "value": 0}, "value": 1}}}
},
"resolve": {"scale": {"xOffset": "independent"}},
"layer": [
{"data": {"name": "vB"}, "mark": {"type": "line", "strokeWidth": 3, "strokeJoin": "round", "clip": true},
 "encoding": {"xOffset": {"field": "d", "type": "quantitative", "scale": {"domain": [-4.275, 4.275]}},
  "stroke": {"field": "g", "type": "nominal", "scale": {"domain": ["PBS","S-QIIV","Wyeth/IL-15/5Flu"], "range": ["#8a8a8a","#000000","#ff0000"]},
   "legend": {"orient": "none", "legendX": 393.4, "legendY": -14, "title": null, "symbolType": "M-2,-0.26H2V0.26H-2Z", "symbolSize": 324, "symbolStrokeWidth": 3, "symbolOffset": 9, "labelFontSize": 19.5, "labelOffset": 33, "padding": 10, "rowPadding": 8, "strokeColor": "black", "fillColor": "white"}},
  "detail": {"field": "c"}, "order": {"field": "v", "type": "quantitative"}}},
{"data": {"name": "vB"}, "mark": {"type": "line", "strokeWidth": 3, "strokeJoin": "round", "clip": true},
 "encoding": {"xOffset": {"field": "d", "type": "quantitative", "scale": {"domain": [4.275, -4.275]}},
  "stroke": {"field": "g", "type": "nominal"},
  "detail": {"field": "c"}, "order": {"field": "v", "type": "quantitative"}}},
{"data": {"name": "pB"}, "transform": [{"filter": "datum.v >= 50"}], "mark": {"type": "point", "shape": "circle", "filled": true, "size": 66, "stroke": "black", "strokeWidth": 1, "opacity": 1},
 "encoding": {"xOffset": {"field": "j", "type": "quantitative", "scale": {"domain": [-4.275, 4.275]}},
  "fill": {"field": "g", "type": "nominal", "scale": {"domain": ["PBS","S-QIIV","Wyeth/IL-15/5Flu"], "range": ["#848484","#000000","#ff0000"]}, "legend": null}}}
]
},
{"data": {"values": [{"v": 50}]}, "mark": {"type": "point", "shape": "M-1,-1L1,1", "size": 324, "filled": false, "stroke": "black", "strokeWidth": 1.5, "opacity": 1},
 "encoding": {"x": {"datum": 0, "type": "quantitative", "scale": {"domain": [0, 1], "range": [72.3, 628.7]}, "axis": null},
  "y": {"field": "v", "type": "quantitative", "axis": {"values": [50, 75, 100], "title": null, "offset": -72.3, "labelFontSize": 22, "tickSize": 14, "labelPadding": 4, "labelOverlap": false, "tickOpacity": {"condition": {"test": "datum.value == 50", "value": 0}, "value": 1}}}}}
]
},
{
"width": 628.7, "height": 393.4,
"resolve": {"scale": {"x": "independent"}},
"layer": [
{
"encoding": {
"x": {"field": "c", "type": "nominal", "scale": {"type": "band", "range": [72.3, 628.7], "paddingInner": 0, "paddingOuter": 1.54, "domain": ["E158G|P","E158G|1","E158G|2","E158G|S","E158G|3","E158G|4","E158G|W","E158G|5","E158G|6","E158G|7","E158G|8","D253N|P","D253N|1","D253N|2","D253N|S","D253N|3","D253N|4","D253N|W","D253N|5","D253N|6","D253N|7","D253N|8","K339T|P","K339T|1","K339T|2","K339T|S","K339T|3","K339T|4","K339T|W","K339T|5","K339T|6","K339T|7","K339T|8","K526R|P","K526R|1","K526R|2","K526R|S","K526R|3","K526R|4","K526R|W","K526R|5","K526R|6","K526R|7","K526R|8","M535T|P","M535T|1","M535T|2","M535T|S","M535T|3","M535T|4","M535T|W","M535T|5","M535T|6","M535T|7","M535T|8","T588I|P","T588I|1","T588I|2","T588I|S","T588I|3","T588I|4","T588I|W"]},
  "axis": {"values": ["E158G|S","D253N|S","K339T|S","K526R|S","M535T|S","T588I|S"], "labelExpr": "split(datum.value, '|')[0]", "labelAngle": -90, "labelFontSize": 26, "tickSize": 6, "labelPadding": 10, "title": "PB2 mutation", "titleFontSize": 30, "titlePadding": 35, "titleX": 350.5}},
"y": {"field": "v", "type": "quantitative", "scale": {"domain": [0, 25], "nice": false, "zero": false}, "axis": {"values": [0, 5, 10, 15, 20, 25], "title": "Frequency of mutant (%)", "offset": -72.3, "titleFontSize": 30, "titleY": 160, "titlePadding": 40, "labelFontSize": 25, "tickSize": 14, "labelPadding": 4, "labelOverlap": false, "tickOpacity": {"condition": {"test": "datum.value == 25", "value": 0}, "value": 1}}}
},
"resolve": {"scale": {"xOffset": "independent"}},
"layer": [
{"data": {"name": "vB"}, "mark": {"type": "line", "strokeWidth": 3, "strokeJoin": "round", "clip": true},
 "encoding": {"xOffset": {"field": "d", "type": "quantitative", "scale": {"domain": [-4.275, 4.275]}},
  "stroke": {"field": "g", "type": "nominal", "scale": {"domain": ["PBS","S-QIIV","Wyeth/IL-15/5Flu"], "range": ["#8a8a8a","#000000","#ff0000"]}, "legend": null},
  "detail": {"field": "c"}, "order": {"field": "v", "type": "quantitative"}}},
{"data": {"name": "vB"}, "mark": {"type": "line", "strokeWidth": 3, "strokeJoin": "round", "clip": true},
 "encoding": {"xOffset": {"field": "d", "type": "quantitative", "scale": {"domain": [4.275, -4.275]}},
  "stroke": {"field": "g", "type": "nominal", "legend": null},
  "detail": {"field": "c"}, "order": {"field": "v", "type": "quantitative"}}},
{"data": {"name": "pB"}, "transform": [{"filter": "datum.v <= 25"}], "mark": {"type": "point", "shape": "circle", "filled": true, "size": 66, "stroke": "black", "strokeWidth": 1, "opacity": 1},
 "encoding": {"xOffset": {"field": "j", "type": "quantitative", "scale": {"domain": [-4.275, 4.275]}},
  "fill": {"field": "g", "type": "nominal", "scale": {"domain": ["PBS","S-QIIV","Wyeth/IL-15/5Flu"], "range": ["#848484","#000000","#ff0000"]}, "legend": null}}}
]
},
{"data": {"values": [{"v": 25}]}, "mark": {"type": "point", "shape": "M-1,-1L1,1", "size": 324, "filled": false, "stroke": "black", "strokeWidth": 1.5, "opacity": 1},
 "encoding": {"x": {"datum": 0, "type": "quantitative", "scale": {"domain": [0, 1], "range": [72.3, 628.7]}, "axis": null},
  "y": {"field": "v", "type": "quantitative", "axis": {"values": [0, 5, 10, 15, 20, 25], "title": "Frequency of mutant (%)", "offset": -72.3, "titleFontSize": 30, "titleY": 160, "titlePadding": 40, "labelFontSize": 25, "tickSize": 14, "labelPadding": 4, "labelOverlap": false, "tickOpacity": {"condition": {"test": "datum.value == 25", "value": 0}, "value": 1}}}}}
]
}
]
}
],
"resolve": {"scale": {"stroke": "independent", "fill": "independent"}, "legend": {"stroke": "independent"}},
"config": {
"font": "Liberation Sans",
"view": {"stroke": null},
"axis": {"domainColor": "black", "domainWidth": 1.5, "tickColor": "black", "tickWidth": 1.5, "labelColor": "black", "titleColor": "black", "titleFontWeight": "normal", "grid": false, "labelFont": "Liberation Sans", "titleFont": "Liberation Sans"},
"legend": {"labelColor": "black", "labelFont": "Liberation Sans"},
"title": {"color": "black", "font": "Liberation Sans"}
}
}
